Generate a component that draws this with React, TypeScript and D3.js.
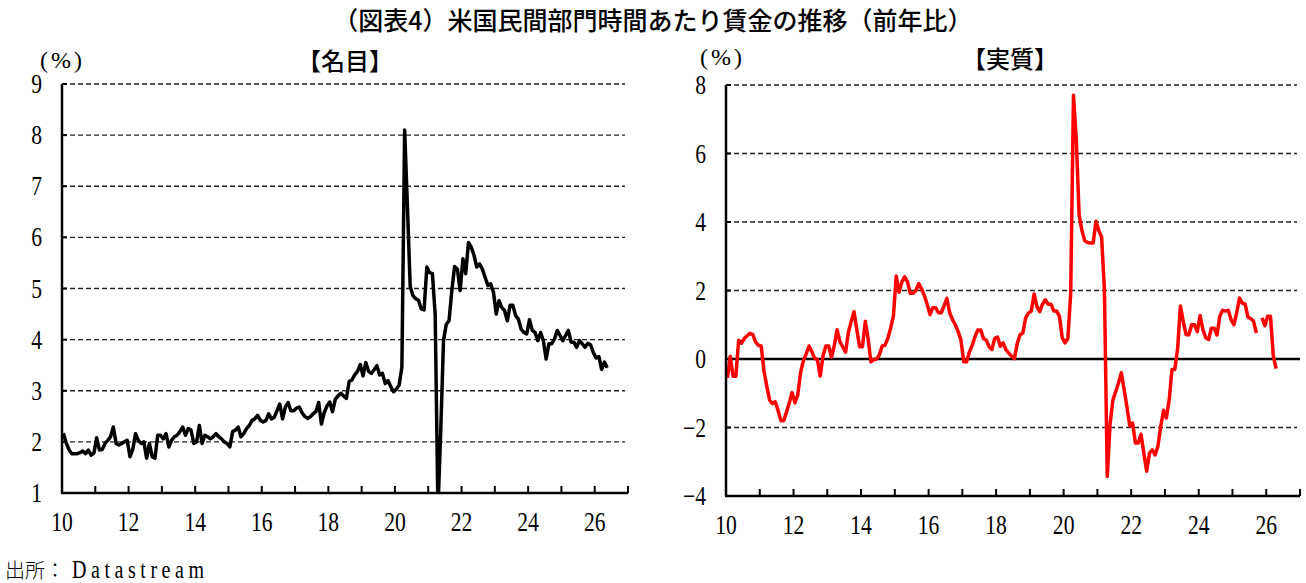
import * as d3 from 'd3';

// monthly, Jan 2010 onward (YoY %)
const nominal = [
  2.17, 1.98, 1.85, 1.77, 1.77, 1.77, 1.79, 1.82, 1.77, 1.84, 1.74, 1.78,
  2.08, 1.84, 1.85, 1.97, 2.03, 2.1, 2.29, 1.97, 1.94, 1.97, 2.0, 2.03,
  1.71, 1.85, 2.16, 2.03, 1.97, 2.0, 1.68, 1.97, 1.71, 1.68, 2.13, 2.13,
  2.06, 2.16, 1.9, 2.03, 2.1, 2.13, 2.2, 2.29, 2.13, 2.26, 2.23, 1.97,
  2.0, 2.32, 1.97, 2.13, 2.1, 2.06, 2.1, 2.16, 2.1, 2.06, 2.0, 1.97,
  1.9, 2.2, 2.23, 2.29, 2.1, 2.16, 2.26, 2.32, 2.42, 2.45, 2.52, 2.42,
  2.39, 2.42, 2.55, 2.45, 2.48, 2.61, 2.74, 2.45, 2.68, 2.77, 2.61, 2.61,
  2.66, 2.68, 2.57, 2.5, 2.46, 2.49, 2.55, 2.59, 2.77, 2.35, 2.57, 2.7,
  2.78, 2.59, 2.83, 2.9, 2.95, 2.9, 2.85, 3.18, 3.21, 3.31, 3.38, 3.51,
  3.29, 3.55, 3.38, 3.34, 3.41, 3.49, 3.31, 3.34, 3.14, 3.2, 3.08, 2.98,
  3.03, 3.11, 3.46, 8.1, 6.6, 5.04, 4.86, 4.8, 4.77, 4.6, 4.58, 5.42,
  5.31, 5.29, 4.5, 0.7, 2.2, 3.98, 4.3, 4.37, 4.96, 5.43, 5.38, 4.96,
  5.58, 5.29, 5.9, 5.81, 5.65, 5.42, 5.48, 5.38, 5.22, 5.06, 5.09, 4.93,
  4.5, 4.76, 4.63, 4.57, 4.37, 4.67, 4.67, 4.47, 4.4, 4.2, 4.14, 4.11,
  4.39, 4.18, 4.14, 3.98, 4.14, 3.98, 3.62, 3.92, 3.92, 4.01, 4.18, 4.08,
  3.98, 4.08, 4.18, 3.95, 3.95, 3.85, 3.98, 3.92, 3.85, 3.93, 3.9, 3.75,
  3.64, 3.67, 3.42, 3.56, 3.45,
];

// Oct 2025 missing (no CPI)
const real: (number | null)[] = [
  -0.55, 0.07, -0.5, -0.5, 0.55, 0.46, 0.6, 0.68, 0.75, 0.72, 0.5, 0.4,
  0.38, -0.35, -0.8, -1.2, -1.3, -1.25, -1.5, -1.8, -1.8, -1.55, -1.28, -0.98,
  -1.28, -1.05, -0.4, -0.05, 0.15, 0.38, 0.22, 0.02, -0.02, -0.5, 0.1, 0.38,
  0.38, 0.05, 0.4, 0.85, 0.5, 0.35, 0.2, 0.78, 1.1, 1.38, 0.85, 0.36,
  0.36, 1.1, 0.6, -0.08, -0.02, 0.0, 0.12, 0.38, 0.4, 0.6, 0.9, 1.25,
  2.42, 1.95, 2.25, 2.4, 2.25, 1.92, 1.92, 2.0, 2.2, 2.05, 1.85, 1.6,
  1.3, 1.5, 1.5, 1.35, 1.35, 1.55, 1.77, 1.35, 1.15, 1.0, 0.8, 0.55,
  -0.08, -0.08, 0.2, 0.4, 0.65, 0.85, 0.85, 0.6, 0.55, 0.36, 0.28, 0.6,
  0.64, 0.37, 0.47, 0.27, 0.17, 0.08, 0.01, 0.45, 0.71, 0.76, 1.2, 1.34,
  1.4, 1.9, 1.53, 1.38, 1.6, 1.73, 1.6, 1.6, 1.4, 1.4, 1.25, 0.62,
  0.47, 0.6, 1.9, 7.7, 6.4, 4.2, 3.75, 3.45, 3.4, 3.39, 3.39, 4.02,
  3.75, 3.55, 2.0, -3.43, -1.9, -1.2, -0.95, -0.7, -0.4, -0.9, -1.4, -1.95,
  -1.87, -2.45, -2.45, -2.2, -2.75, -3.28, -2.75, -2.65, -2.8, -2.55, -1.97, -1.5,
  -1.72, -1.2, -0.31, -0.31, 0.3, 1.55, 1.1, 0.71, 0.71, 1.0, 1.0, 0.8,
  1.27, 0.85, 0.62, 0.57, 0.9, 0.9, 0.7, 1.25, 1.42, 1.4, 1.42, 1.15,
  1.0, 1.35, 1.78, 1.63, 1.6, 1.22, 1.18, 1.1, 0.76, null, 1.2, 0.97,
  1.25, 1.25, 0.1, -0.28,
];

const years = d3.range(2010, 2028);
const yearLabels = ['10', '12', '14', '16', '18', '20', '22', '24', '26'];
const nominalTicks = [1, 2, 3, 4, 5, 6, 7, 8, 9];
const realTicks = [-4, -2, 0, 2, 4, 6, 8];

const dateOf = (i: number) => 2010 + (i + 0.5) / 12;

const SERIF = '"Liberation Serif", "Times New Roman", serif';
const GOTHIC = '"Noto Sans CJK JP", "Noto Sans", sans-serif';

type PanelProps = {
  x0: number;
  x1: number;
  yTop: number;
  yBottom: number;
  domain: [number, number];
  ticks: number[];
  data: (number | null)[];
  color: string;
  title: string;
  titleX: number;
  titleY: number;
  pctX: number;
  pctY: number;
  id: string;
  zeroLine?: boolean;
};

function Panel(p: PanelProps) {
  const x = d3.scaleLinear().domain([2010, 2027]).range([p.x0, p.x1]);
  const y = d3.scaleLinear().domain(p.domain).range([p.yBottom, p.yTop]);
  const line = d3
    .line<number | null>()
    .defined((d) => d !== null)
    .x((_, i) => x(dateOf(i)))
    .y((d) => y(d as number));
  const fmt = (v: number) => (v < 0 ? '\u2212' + Math.abs(v) : String(v));
  const gridEnd = p.x1 - 3;

  return (
    <g>
      <defs>
        <clipPath id={p.id}>
          <rect x={p.x0} y={p.yTop - 10} width={p.x1 - p.x0} height={p.yBottom - p.yTop + 10} />
        </clipPath>
      </defs>
      {p.ticks.slice(1).map((t) =>
        t === 0 && p.zeroLine ? null : (
          <line key={t} x1={p.x0} x2={gridEnd} y1={y(t)} y2={y(t)} stroke="#222" strokeWidth={1.3} strokeDasharray="5 3" />
        ),
      )}
      {p.ticks.map((t) => (
        <text
          key={'l' + t}
          transform={`translate(${p.x0 - 20},${y(t) + 9}) scale(0.8,1)`}
          textAnchor="end"
          fontFamily={SERIF}
          fontSize={27}
        >
          {fmt(t)}
        </text>
      ))}
      {p.ticks.map((t) => (
        <line key={'yt' + t} x1={p.x0} x2={p.x0 + 5} y1={y(t)} y2={y(t)} stroke="#000" strokeWidth={2} />
      ))}
      {years.map((yr) => (
        <line key={'xt' + yr} x1={x(yr)} x2={x(yr)} y1={p.yBottom} y2={p.yBottom - 7} stroke="#000" strokeWidth={2} />
      ))}
      {yearLabels.map((lab) => (
        <text
          key={'xl' + lab}
          transform={`translate(${x(2000 + Number(lab))},${p.yBottom + 38}) scale(0.8,1)`}
          textAnchor="middle"
          fontFamily={SERIF}
          fontSize={27}
        >
          {lab}
        </text>
      ))}
      {p.zeroLine && <line x1={p.x0} x2={p.x1} y1={y(0)} y2={y(0)} stroke="#000" strokeWidth={2.5} />}
      <path d={line(p.data) ?? ''} fill="none" stroke={p.color} strokeWidth={3.5} strokeLinejoin="round" clipPath={`url(#${p.id})`} />
      <line x1={p.x0} x2={p.x0} y1={p.yTop} y2={p.yBottom} stroke="#000" strokeWidth={2.5} />
      <line x1={p.x0 - 1} x2={p.x1} y1={p.yBottom} y2={p.yBottom} stroke="#000" strokeWidth={2.5} />
      <text x={p.pctX} y={p.pctY} fontFamily={SERIF} fontSize={24} letterSpacing={3}>
        (%)
      </text>
      <text x={p.titleX} y={p.titleY} textAnchor="middle" fontFamily={GOTHIC} fontSize={24} fontWeight={500}>
        {p.title}
      </text>
    </g>
  );
}

export default function App() {
  return (
    <svg width={1306} height={583} style={{ display: 'block', position: 'absolute', left: 0, top: 0, background: '#fff' }}>
      <text x={653} y={30} textAnchor="middle" fontFamily={GOTHIC} fontSize={25} fontWeight={500}>
        （図表4）米国民間部門時間あたり賃金の推移（前年比）
      </text>
      <Panel
        id="clipL"
        x0={62}
        x1={628}
        yTop={84}
        yBottom={493}
        domain={[1, 9]}
        ticks={nominalTicks}
        data={nominal}
        color="#000"
        title="【名目】"
        titleX={345}
        titleY={70}
        pctX={40}
        pctY={68}
      />
      <Panel
        id="clipR"
        x0={726}
        x1={1300}
        yTop={85}
        yBottom={496}
        domain={[-4, 8]}
        ticks={realTicks}
        data={real}
        color="#ff0000"
        title="【実質】"
        titleX={1010}
        titleY={68}
        pctX={700}
        pctY={65}
        zeroLine
      />
      <text x={5} y={578} fontFamily={GOTHIC} fontSize={20} fontWeight={300}>
        出所：
      </text>
      <text
        transform="translate(72,578) scale(0.8,1)"
        fontFamily={SERIF}
        fontSize={25}
        textLength={165}
        lengthAdjust="spacing"
      >
        Datastream
      </text>
    </svg>
  );
}
